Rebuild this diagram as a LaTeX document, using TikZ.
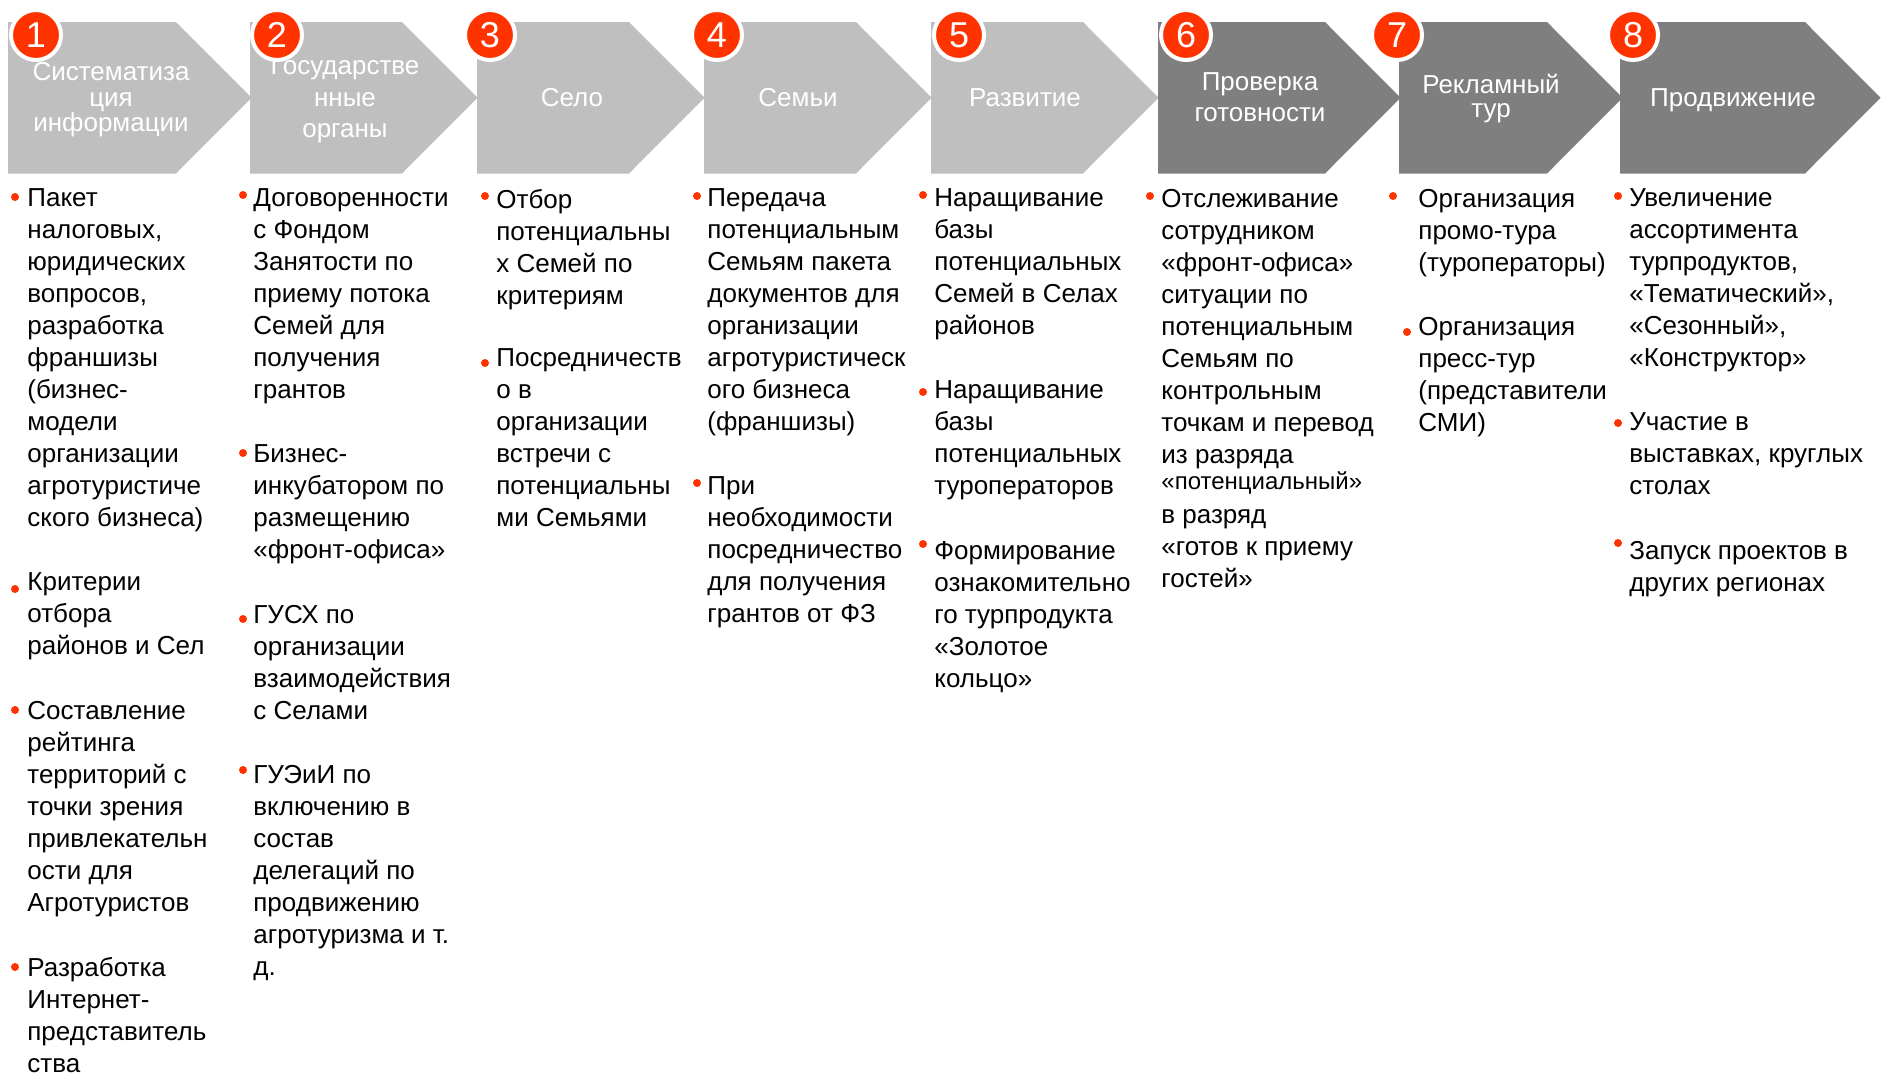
\documentclass[tikz,border=0pt]{standalone}
\usepackage{fontspec}
\setmainfont{Liberation Sans}

\definecolor{lightstage}{HTML}{BFBFBF}
\definecolor{darkstage}{HTML}{7F7F7F}
\definecolor{badgered}{HTML}{FF3300}

\tikzset{
  stagelabel/.style={text=white, anchor=base, inner sep=0pt, font=\fontsize{13}{13}\selectfont},
  % first baseline sits (about) at the given point
  item/.style={anchor=north west, yshift=9.2pt, align=left, inner sep=0pt,
    font=\fontsize{13}{16}\selectfont, execute at begin node=\strut},
  dot/.style={circle, fill=badgered, inner sep=0pt, minimum size=4pt},
  badge/.style={circle, fill=badgered, draw=white, line width=2pt, minimum size=25pt,
    inner sep=0pt, text=white, font=\fontsize{18}{18}\selectfont}
}

\begin{document}
\begin{tikzpicture}[x=0.5pt, y=-0.5pt]
  \useasboundingbox (0,0) rectangle (1884,1072);

  % stages
  \foreach \xa/\xb/\col in {8/176/lightstage, 250/402/lightstage, 477/629/lightstage,
      704/856/lightstage, 931/1083/lightstage, 1158/1325/darkstage,
      1399/1547/darkstage, 1620/1805/darkstage}
    \fill[\col] (\xa,22) -- (\xb,22) -- (\xb+75.5,97.75) -- (\xb,173.5) -- (\xa,173.5) -- cycle;

  \begin{scope}[every node/.style={stagelabel}]
    \node (s1a) at (111,80)  {Систематиза};
    \node (s1b) at (111,106) {ция};
    \node (s1c) at (111,131) {информации};
    \node (s2a) at (345,74)  {Государстве};
    \node (s2b) at (345,106) {нные};
    \node (s2c) at (345,137) {органы};
    \node (s3)  at (572,106) {Село};
    \node (s4)  at (798,106) {Семьи};
    \node (s5)  at (1025,106) {Развитие};
    \node (s6a) at (1260,90)  {Проверка};
    \node (s6b) at (1260,121) {готовности};
    \node (s7a) at (1491,93)  {Рекламный};
    \node (s7b) at (1491,117) {тур};
    \node (s8)  at (1733,106) {Продвижение};
  \end{scope}

  \foreach \n/\bx in {1/36, 2/277, 3/490, 4/717, 5/959, 6/1186, 7/1397, 8/1633}
    \node[badge] (b\n) at (\bx,35) {\n};

  % bullet items
  \begin{scope}[every node/.style={item}]
    \node (p1a) at (27,207) {Пакет\\налоговых,\\юридических\\вопросов,\\разработка\\франшизы\\(бизнес-\\модели\\организации\\агротуристиче\\ского бизнеса)};
    \node (p1b) at (27,591) {Критерии\\отбора\\районов и Сел};
    \node (p1c) at (27,719) {Составление\\рейтинга\\территорий с\\точки зрения\\привлекательн\\ости для\\Агротуристов};
    \node (p1d) at (27,975) {Разработка\\Интернет-\\представитель\\ства};

    \node (p2a) at (253,207) {Договоренности\\с Фондом\\Занятости по\\приему потока\\Семей для\\получения\\грантов};
    \node (p2b) at (253,463) {Бизнес-\\инкубатором по\\размещению\\«фронт-офиса»};
    \node (p2c) at (253,623) {ГУСХ по\\организации\\взаимодействия\\с Селами};
    \node (p2d) at (253,783) {ГУЭиИ по\\включению в\\состав\\делегаций по\\продвижению\\агротуризма и т.\\д.};

    \node (p3a) at (496,207) {Отбор\\потенциальны\\х Семей по\\критериям};
    \node (p3b) at (496,367) {Посредничеств\\о в\\организации\\встречи с\\потенциальны\\ми Семьями};

    \node (p4a) at (707,207) {Передача\\потенциальным\\Семьям пакета\\документов для\\организации\\агротуристическ\\ого бизнеса\\(франшизы)};
    \node (p4b) at (707,495) {При\\необходимости\\посредничество\\для получения\\грантов от ФЗ};

    \node (p5a) at (934,207) {Наращивание\\базы\\потенциальных\\Семей в Селах\\районов};
    \node (p5b) at (934,399) {Наращивание\\базы\\потенциальных\\туроператоров};
    \node (p5c) at (934,559) {Формирование\\ознакомительно\\го турпродукта\\«Золотое\\кольцо»};

    \node (p6a) at (1161,207) {Отслеживание\\сотрудником\\«фронт-офиса»\\ситуации по\\потенциальным\\Семьям по\\контрольным\\точкам и перевод\\из разряда\\[-3pt]{\fontsize{12}{13}\selectfont«потенциальный»}\\[1pt]в разряд\\«готов к приему\\гостей»};

    \node (p7a) at (1418,207) {Организация\\промо-тура\\(туроператоры)};
    \node (p7b) at (1418,335) {Организация\\пресс-тур\\(представители\\СМИ)};

    \node (p8a) at (1629,207) {Увеличение\\ассортимента\\турпродуктов,\\«Тематический»,\\«Сезонный»,\\«Конструктор»};
    \node (p8b) at (1629,431) {Участие в\\выставках, круглых\\столах};
    \node (p8c) at (1629,559) {Запуск проектов в\\других регионах};
  \end{scope}

  \begin{scope}[every node/.style={dot}]
    \node (d1a) at (15,197) {};
    \node (d1b) at (15,589) {};
    \node (d1c) at (15,710) {};
    \node (d1d) at (15,967) {};
    \node (d2a) at (243,195) {};
    \node (d2b) at (243,453) {};
    \node (d2c) at (243,619) {};
    \node (d2d) at (243,770) {};
    \node (d3a) at (485,196) {};
    \node (d3b) at (485,363) {};
    \node (d4a) at (697,196) {};
    \node (d4b) at (697,483) {};
    \node (d5a) at (923,195) {};
    \node (d5b) at (923,392) {};
    \node (d5c) at (923,544) {};
    \node (d6a) at (1150,196) {};
    \node (d7a) at (1393,196) {};
    \node (d7b) at (1407,332) {};
    \node (d8a) at (1618,196) {};
    \node (d8b) at (1618,423) {};
    \node (d8c) at (1618,543) {};
  \end{scope}

\end{tikzpicture}
\end{document}
